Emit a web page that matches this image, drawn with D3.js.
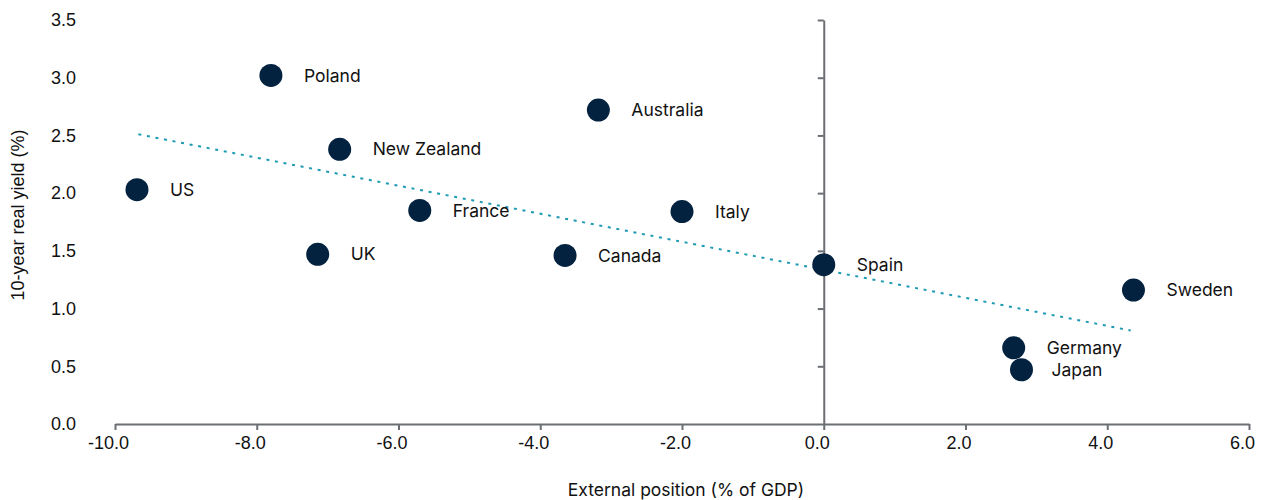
<!DOCTYPE html>
<html>
<head>
<meta charset="utf-8">
<script src="https://cdn.jsdelivr.net/npm/d3@7"></script>
<style>
  body { margin: 0; background: #fff; }
  svg { display: block; font-family: Inter, "Noto Sans", sans-serif; }
  .label { font-size: 17.5px; fill: #111; }
  .tick-label { font-family: "Liberation Sans", Arial, sans-serif; font-size: 18px; fill: #111; }
  .axis-title { font-size: 17.5px; fill: #111; }
  .axis-title.y { font-family: "Liberation Sans", Arial, sans-serif; font-size: 18px; }
</style>
</head>
<body>
<svg id="chart" width="1264" height="500"></svg>
<script>
// countries, external position (% of GDP) and 10-year real yield (%)
const countries = ["US", "Poland", "UK", "New Zealand", "France", "Australia", "Canada", "Italy", "Spain", "Germany", "Japan", "Sweden"];
const externalPosition = [-9.69, -7.80, -7.14, -6.83, -5.70, -3.18, -3.65, -2.00, 0.0, 2.68, 2.79, 4.37];
const realYield = [2.03, 3.02, 1.47, 2.38, 1.85, 2.72, 1.46, 1.84, 1.38, 0.66, 0.47, 1.16];

// fitted trend line end points
const trendX = [-9.67, 4.33];
const trendY = [2.51, 0.81];

const xTicks = [-10, -8, -6, -4, -2, 0, 2, 4, 6];
const yTicks = [0, 0.5, 1, 1.5, 2, 2.5, 3, 3.5];

const data = countries.map((name, i) => ({
  name,
  x: externalPosition[i],
  y: realYield[i],
}));
const trend = trendX.map((x, i) => ({ x, y: trendY[i] }));

const marginLeft = 115;
const marginRight = 15;
const marginTop = 20;
const marginBottom = 76;
const width = 1264;
const height = 500;
const radius = 11.5;

const x = d3.scaleLinear().domain([-10, 6]).range([marginLeft, width - marginRight]);
const y = d3.scaleLinear().domain([0, 3.5]).range([height - marginBottom, marginTop]);

const svg = d3.select("#chart");
const axisColor = "#6b6e73";

// x axis along y = 0
svg.append("g")
  .attr("transform", `translate(0,${y(0)})`)
  .call(d3.axisBottom(x).tickValues(xTicks).tickSize(6).tickSizeOuter(0))
  .call((g) => g.select(".domain").attr("stroke", axisColor).attr("stroke-width", 2))
  .call((g) => g.selectAll(".tick line").attr("stroke", axisColor).attr("stroke-width", 2))
  .call((g) => g.selectAll(".tick text")
    .attr("class", "tick-label")
    .attr("x", -7)
    .attr("y", 12)
    .attr("font-family", null)
    .attr("font-size", null)
    .text((d) => d3.format(".1f")(d).replace("−", "-")));

// y axis along x = 0 (no labels), labels on the far left
svg.append("g")
  .attr("transform", `translate(${x(0)},0)`)
  .call(d3.axisLeft(y).tickValues(yTicks).tickSize(6).tickSizeOuter(0).tickFormat(""))
  .call((g) => g.select(".domain").attr("stroke", axisColor).attr("stroke-width", 2))
  .call((g) => g.selectAll(".tick line").attr("stroke", axisColor).attr("stroke-width", 2))
  .call((g) => g.selectAll(".tick").filter((d) => d === 0).remove());

svg.append("g")
  .selectAll("text")
  .data(yTicks)
  .join("text")
  .attr("class", "tick-label")
  .attr("x", 76)
  .attr("y", (d) => y(d))
  .attr("dy", "0.35em")
  .attr("text-anchor", "end")
  .text((d) => d3.format(".1f")(d));

// trend line
const line = d3.line().x((d) => x(d.x)).y((d) => y(d.y));
svg.append("path")
  .datum(trend)
  .attr("d", line)
  .attr("fill", "none")
  .attr("stroke", "#1d9bb2")
  .attr("stroke-width", 2)
  .attr("stroke-dasharray", "3,5.7");

// points
svg.append("g")
  .selectAll("circle")
  .data(data)
  .join("circle")
  .attr("cx", (d) => x(d.x))
  .attr("cy", (d) => y(d.y))
  .attr("r", radius)
  .attr("fill", "#03223f");

svg.append("g")
  .selectAll("text")
  .data(data)
  .join("text")
  .attr("class", "label")
  .attr("x", (d) => x(d.x) + (d.name === "Japan" ? 30 : 33))
  .attr("y", (d) => y(d.y))
  .attr("dy", "0.35em")
  .text((d) => d.name);

// axis titles
svg.append("text")
  .attr("class", "axis-title")
  .attr("x", 686)
  .attr("y", 490)
  .attr("dy", "0.35em")
  .attr("text-anchor", "middle")
  .text("External position (% of GDP)");

svg.append("text")
  .attr("class", "axis-title y")
  .attr("transform", `translate(18,${215}) rotate(-90)`)
  .attr("dy", "0.35em")
  .attr("text-anchor", "middle")
  .text("10-year real yield (%)");
</script>
</body>
</html>
